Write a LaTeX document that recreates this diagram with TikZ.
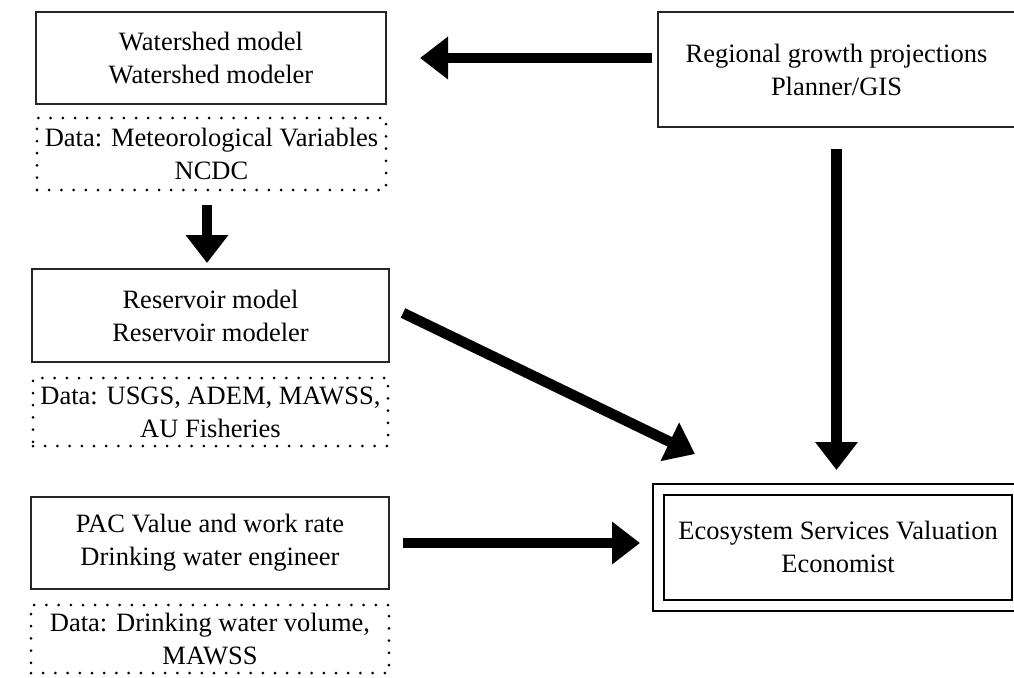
\documentclass[tikz,border=0pt]{standalone}
\usepackage{fontspec}
\setmainfont{Liberation Serif}
\usetikzlibrary{arrows.meta}

\tikzset{
  every node/.style={inner sep=0pt, outer sep=0pt, align=center,
    font=\fontsize{26.5}{33}\selectfont},
  modelbox/.style={draw=black!85, line width=1.1pt, fill=white},
  databox/.style={draw=black, line width=3pt, line cap=round,
    dash pattern=on 0pt off 12.2pt},
  valuebox/.style={draw=black, line width=2pt, double=white, double distance=9pt},
  bigarrow/.style={line width=10.5pt, -{Triangle[length=28pt,width=41pt]}},
}

\begin{document}
\begin{tikzpicture}[x=1pt, y=-1pt]
  \useasboundingbox (0,0) rectangle (1014,677);
  \clip (0,0) rectangle (1014,677);

  % left column: models and their data sources
  \node[modelbox, minimum width=350pt, minimum height=92pt] (ws) at (211,58)
    {Watershed model\\Watershed modeler};
  \node[databox, minimum width=349pt, minimum height=72pt] (ds1) at (211.5,154)
    {Data: Meteorological Variables\\NCDC};

  \node[modelbox, minimum width=357pt, minimum height=93pt] (res) at (210.5,315.5)
    {Reservoir model\\Reservoir modeler};
  \node[databox, minimum width=355pt, minimum height=68pt] (ds2) at (210.5,412)
    {Data: USGS, ADEM, MAWSS,\\AU Fisheries};

  \node[modelbox, minimum width=358pt, minimum height=92pt] (pac) at (210,543)
    {PAC Value and work rate\\Drinking water engineer};
  \node[databox, minimum width=358pt, minimum height=68pt] (ds3) at (210,639)
    {Data: Drinking water volume,\\MAWSS};

  % right column
  \node[modelbox, minimum width=357pt, minimum height=115pt] (reg) at (836.5,69.5)
    {Regional growth projections\\Planner/GIS};
  \node[valuebox, minimum width=359pt, minimum height=115.5pt] (eco) at (838,547.25)
    {Ecosystem Services Valuation\\Economist};

  \coordinate (diagtip) at (695,454);

  % flows
  \draw[bigarrow, shorten <=6pt, shorten >=34pt] (ws.east -| reg.west) -- (ws.east);
  \draw[bigarrow, shorten <=15pt, shorten >=6pt]
    ([xshift=-4.5pt]ds1.south) -- ([xshift=-4.5pt]ds1.south |- res.north);
  \draw[bigarrow, shorten <=22pt, shorten >=19.5pt] (reg.south) -- (reg.south |- eco.north);
  \draw[bigarrow] ([shift={(14pt,2.5pt)}]res.east) -- (diagtip);
  \draw[bigarrow, shorten <=14pt, shorten >=18.5pt] (pac.east) -- (pac.east -| eco.west);
\end{tikzpicture}
\end{document}
